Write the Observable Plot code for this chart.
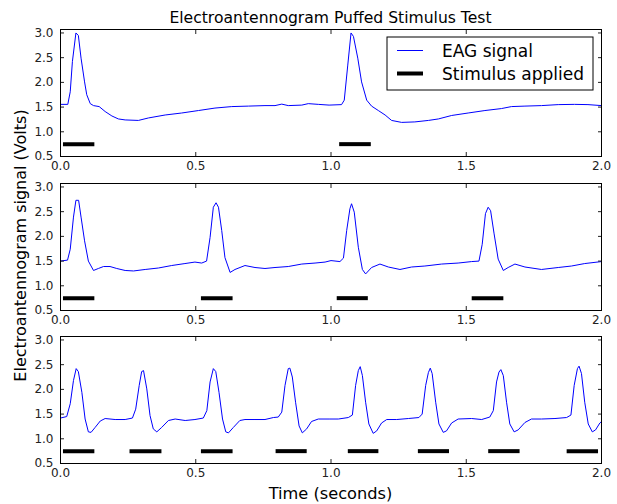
<!DOCTYPE html>
<html><head><meta charset="utf-8">
<script src="https://cdn.jsdelivr.net/npm/d3@7"></script>
<script src="https://cdn.jsdelivr.net/npm/@observablehq/plot@0.6"></script>
<style>
html,body{margin:0;padding:0;background:#fff;}
#fig{position:relative;width:617px;height:504px;overflow:hidden;background:#fff;font-family:"DejaVu Sans",sans-serif;}
#fig svg{position:absolute;left:0;}
</style></head><body><div id="fig"></div>
<script>
// ---------- text ----------
const titleText = "Electroantennogram Puffed Stimulus Test";
const yLabelText = "Electroantennogram signal (Volts)";
const xLabelText = "Time (seconds)";
const legendLabels = ["EAG signal", "Stimulus applied"];

// ---------- ticks ----------
const xTicks = [0, 0.5, 1.0, 1.5, 2.0];
const yTicks = [0.5, 1.0, 1.5, 2.0, 2.5, 3.0];
const stimLevel = 0.75;

// ---------- panel 1 ----------
const time1 = [0,0.027,0.036,0.044,0.057,0.066,0.076,0.089,0.097,0.11,0.122,0.143,0.165,0.19,0.214,0.239,0.288,0.325,0.387,0.448,0.51,0.571,0.633,0.695,0.756,0.793,0.818,0.842,0.892,0.916,0.953,0.993,1.039,1.049,1.062,1.074,1.083,1.099,1.113,1.132,1.15,1.175,1.2,1.224,1.261,1.31,1.36,1.397,1.446,1.507,1.569,1.63,1.667,1.717,1.778,1.84,1.9,1.95,2.0];
const eag1 = [1.555,1.555,1.81,2.42,3.0,2.95,2.49,2.01,1.75,1.57,1.53,1.51,1.41,1.32,1.26,1.24,1.23,1.28,1.34,1.38,1.43,1.48,1.51,1.52,1.53,1.53,1.56,1.53,1.54,1.57,1.555,1.54,1.55,1.64,2.35,3.0,2.93,2.49,2.01,1.64,1.52,1.43,1.34,1.23,1.19,1.2,1.23,1.26,1.33,1.38,1.43,1.47,1.51,1.52,1.53,1.55,1.555,1.55,1.53];
const stimOn1 = [0.011, 1.032];
const stimOff1 = [0.127, 1.149];

// ---------- panel 2 ----------
const time2 = [0,0.026,0.036,0.048,0.057,0.067,0.076,0.089,0.103,0.122,0.14,0.159,0.183,0.208,0.239,0.27,0.313,0.362,0.411,0.46,0.497,0.522,0.54,0.553,0.565,0.575,0.584,0.596,0.608,0.627,0.645,0.682,0.719,0.756,0.793,0.842,0.892,0.941,0.978,1.0,1.033,1.046,1.058,1.07,1.076,1.086,1.101,1.116,1.128,1.15,1.181,1.212,1.255,1.298,1.347,1.409,1.47,1.52,1.547,1.559,1.571,1.581,1.59,1.603,1.618,1.637,1.655,1.68,1.717,1.778,1.84,1.889,1.938,2.0];
const eag2 = [1.50,1.52,1.74,2.39,2.73,2.73,2.39,1.91,1.50,1.31,1.35,1.39,1.39,1.35,1.31,1.30,1.33,1.36,1.41,1.45,1.48,1.46,1.50,1.98,2.59,2.68,2.59,2.12,1.57,1.27,1.33,1.41,1.37,1.35,1.37,1.39,1.44,1.46,1.48,1.51,1.49,1.56,2.12,2.56,2.66,2.49,1.78,1.33,1.24,1.37,1.44,1.38,1.33,1.38,1.40,1.44,1.46,1.49,1.50,1.84,2.46,2.59,2.52,2.05,1.54,1.31,1.37,1.44,1.38,1.33,1.37,1.40,1.45,1.49];
const stimOn2 = [0.011, 0.521, 1.023, 1.522];
const stimOff2 = [0.127, 0.638, 1.138, 1.639];

// ---------- panel 3 ----------
const time3 = [0,0.023,0.036,0.048,0.058,0.066,0.079,0.091,0.103,0.113,0.128,0.147,0.165,0.202,0.239,0.266,0.278,0.291,0.3,0.307,0.319,0.331,0.343,0.356,0.374,0.399,0.424,0.461,0.497,0.528,0.541,0.553,0.565,0.574,0.586,0.599,0.611,0.621,0.639,0.663,0.682,0.719,0.756,0.787,0.805,0.818,0.83,0.842,0.848,0.857,0.869,0.882,0.894,0.91,0.928,0.953,0.996,1.027,1.064,1.079,1.091,1.101,1.108,1.116,1.128,1.14,1.156,1.169,1.187,1.206,1.243,1.286,1.325,1.337,1.35,1.36,1.367,1.374,1.387,1.399,1.415,1.427,1.446,1.47,1.52,1.557,1.587,1.6,1.612,1.621,1.628,1.637,1.649,1.661,1.677,1.692,1.717,1.741,1.778,1.828,1.871,1.887,1.899,1.911,1.917,1.926,1.938,1.951,1.966,1.978,1.994,2.0];
const eag3 = [1.42,1.45,1.71,2.18,2.42,2.36,1.94,1.40,1.14,1.13,1.23,1.36,1.41,1.39,1.39,1.42,1.60,2.08,2.36,2.38,2.01,1.47,1.20,1.14,1.23,1.37,1.40,1.37,1.39,1.42,1.57,2.15,2.42,2.36,1.94,1.40,1.14,1.12,1.23,1.37,1.39,1.39,1.39,1.43,1.44,1.54,2.08,2.42,2.43,2.25,1.74,1.26,1.12,1.20,1.35,1.40,1.40,1.40,1.43,1.48,2.08,2.38,2.46,2.28,1.74,1.30,1.11,1.16,1.32,1.39,1.39,1.41,1.43,1.50,2.08,2.34,2.43,2.32,1.74,1.30,1.13,1.16,1.32,1.40,1.41,1.39,1.44,1.57,2.15,2.35,2.40,2.28,1.74,1.30,1.14,1.18,1.33,1.40,1.40,1.41,1.43,1.48,2.08,2.42,2.47,2.32,1.74,1.30,1.14,1.18,1.32,1.35];
const stimOn3 = [0.011, 0.257, 0.521, 0.797, 1.064, 1.323, 1.583, 1.873];
const stimOff3 = [0.127, 0.375, 0.638, 0.912, 1.177, 1.438, 1.699, 1.989];

// ---------- layout ----------
const W = 617, mL = 60, mR = 16, mT = 5, mB = 27, innerH = 127;
const fmt = d3.format(".1f");
const fig = document.getElementById("fig");

function panel(times, vals, ons, offs, top) {
  const sig = times.map((t, i) => ({t, v: vals[i]}));
  const stim = ons.map((s, i) => ({x1: s, x2: offs[i], y: stimLevel}));
  const p = Plot.plot({
    width: W, height: mT + innerH + mB,
    marginLeft: mL, marginRight: mR, marginTop: mT, marginBottom: mB,
    style: {fontFamily: "DejaVu Sans, sans-serif", fontSize: "12px", color: "#000", background: "transparent", overflow: "visible"},
    x: {domain: [0, 2]},
    y: {domain: [0.5, 3.07]},
    marks: [
      Plot.line(sig, {x: "t", y: "v", stroke: "#0000ff", strokeWidth: 1}),
      Plot.ruleY(stim, {x1: "x1", x2: "x2", y: "y", stroke: "#000", strokeWidth: 4}),
      Plot.axisX({anchor: "bottom", ticks: xTicks, tickSize: -4, tickPadding: 9, tickFormat: fmt, label: null, stroke: "#222", fill: "#222"}),
      Plot.axisX({anchor: "top", ticks: xTicks, tickSize: -4, tickFormat: () => "", label: null, stroke: "#222"}),
      Plot.axisY({anchor: "left", ticks: yTicks, tickSize: -4, tickPadding: 11, tickFormat: fmt, label: null, stroke: "#222", fill: "#222"}),
      Plot.axisY({anchor: "right", ticks: yTicks, tickSize: -4, tickFormat: () => "", label: null, stroke: "#222"}),
      Plot.frame({stroke: "#000", strokeWidth: 1})
    ]
  });
  p.style.top = (top - mT) + "px";
  fig.appendChild(p);
}

panel(time1, eag1, stimOn1, stimOff1, 28.5);
panel(time2, eag2, stimOn2, stimOff2, 182.5);
panel(time3, eag3, stimOn3, stimOff3, 335.5);

// ---------- overlay: title, axis labels, legend ----------
const ov = d3.create("svg").attr("width", W).attr("height", 504)
  .style("top", "0px").style("pointer-events", "none")
  .style("font-family", "DejaVu Sans, sans-serif");
const cx = mL + (W - mL - mR) / 2;
ov.append("text").attr("x", cx).attr("y", 23).attr("text-anchor", "middle")
  .attr("font-size", 15.6).attr("fill", "#000").text(titleText);
ov.append("text").attr("x", cx).attr("y", 499).attr("text-anchor", "middle")
  .attr("font-size", 16.2).attr("fill", "#000").text(xLabelText);
ov.append("text").attr("transform", "translate(26,245.5) rotate(-90)").attr("text-anchor", "middle")
  .attr("font-size", 16).attr("fill", "#000").text(yLabelText);

const lg = ov.append("g");
lg.append("rect").attr("x", 387).attr("y", 37).attr("width", 206).attr("height", 53)
  .attr("fill", "#fff").attr("stroke", "#000").attr("stroke-width", 1);
const legendStroke = ["#0000ff", "#000"];
const legendWidth = [1, 4];
legendLabels.forEach((lab, i) => {
  const yy = 50.5 + i * 23;
  lg.append("line").attr("x1", 397).attr("x2", 423).attr("y1", yy).attr("y2", yy)
    .attr("stroke", legendStroke[i]).attr("stroke-width", legendWidth[i]);
  lg.append("text").attr("x", 442).attr("y", yy + 6).attr("font-size", 17).attr("fill", "#000").text(lab);
});
fig.appendChild(ov.node());
</script></body></html>
